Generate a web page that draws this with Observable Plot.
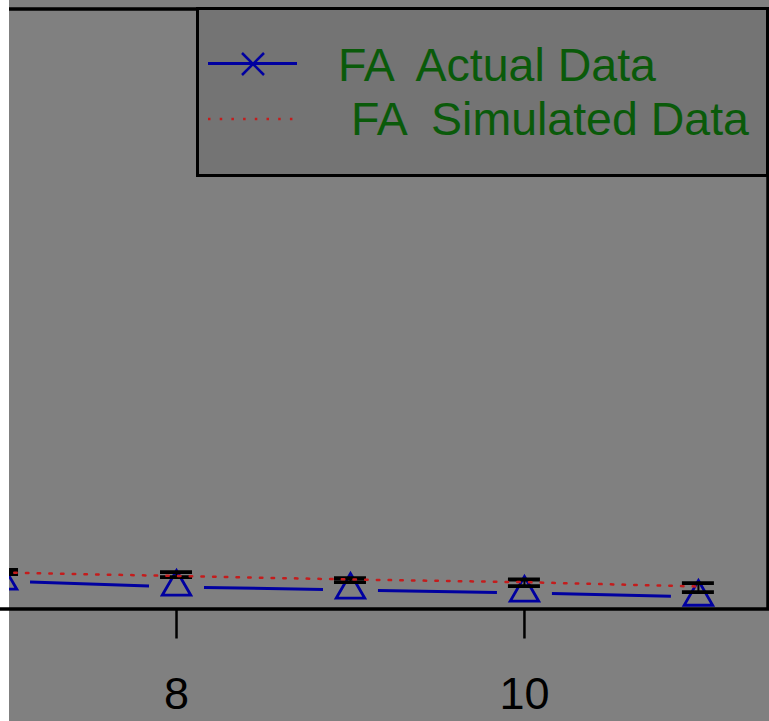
<!DOCTYPE html>
<html><head><meta charset="utf-8">
<script src="https://cdn.jsdelivr.net/npm/d3@7"></script>
<script src="https://cdn.jsdelivr.net/npm/@observablehq/plot@0.6"></script>
<style>
body{margin:0;background:#fff;}
#wrap{position:relative;width:769px;height:721px;font-family:"Liberation Sans",Arial,sans-serif;}
#legend{position:absolute;left:196px;top:7px;width:573px;height:170px;box-sizing:border-box;border:3.5px solid #000;background:#747474;}
#legsym{position:absolute;left:0;top:0;pointer-events:none;}
.lt{position:absolute;font-size:46.5px;line-height:46.5px;color:#0a5a0a;white-space:pre;}
</style>
</head><body>
<div id="wrap"></div>
<script>
// Data
const xs = [7, 8, 9, 10, 11];
const actual = [4.67, 3.67, 3.17, 2.67, 2.0];
const simulated = [6.08, 5.5, 4.92, 4.47, 3.75];
const errLow = [5.83, 5.3, 4.47, 3.8, 2.8];
const errHigh = [6.5, 6.13, 5.13, 4.92, 4.3];
const xTicks = [8, 10];
const seriesLabels = ["FA  Actual Data", " FA  Simulated Data"];

const blue = "#0000a0", red = "#c41c1c";
const data = xs.map((x, i) => ({x, actual: actual[i], sim: simulated[i], lo: errLow[i], hi: errHigh[i]}));

// line segments of the actual series, gapped around the symbols
const gap = 0.158;
const segs = d3.range(xs.length - 1).map(i => {
  const t = gap / (xs[i + 1] - xs[i]);
  const dy = actual[i + 1] - actual[i];
  return {x1: xs[i] + gap, x2: xs[i + 1] - gap, y1: actual[i] + dy * t, y2: actual[i + 1] - dy * t};
});

const xDomain = [7.04, 11.4], yDomain = [0, 100];

const chart = Plot.plot({
  width: 769, height: 721,
  marginLeft: 9, marginRight: 1.5, marginTop: 8.5, marginBottom: 112.5,
  style: {background: "linear-gradient(to right,#fff 0,#fff 9px,#808080 9px)", fontFamily: "'Liberation Sans',Arial,sans-serif", color: "#000"},
  x: {domain: xDomain, axis: null},
  y: {domain: yDomain, axis: null},
  marks: [
    Plot.link(segs, {x1: "x1", y1: "y1", x2: "x2", y2: "y2", stroke: blue, strokeWidth: 3, clip: true}),
    Plot.dot(data, {x: "x", y: "actual", symbol: "triangle", r: 10.6, stroke: blue, strokeWidth: 2.8, fill: "none", clip: true}),
    Plot.ruleX(data, {x: "x", y1: "lo", y2: "hi", stroke: "#000", strokeWidth: 2, clip: true}),
    Plot.ruleY(data, {y: "lo", x1: "x", x2: "x", insetLeft: -16, insetRight: -16, stroke: "#000", strokeWidth: 3.8, clip: true}),
    Plot.ruleY(data, {y: "hi", x1: "x", x2: "x", insetLeft: -16, insetRight: -16, stroke: "#000", strokeWidth: 3.8, clip: true}),
    Plot.line(data, {x: "x", y: "sim", stroke: red, strokeWidth: 2.5, strokeDasharray: "2.5 9.2", clip: true}),
    Plot.ruleY([yDomain[1]], {stroke: "#000", strokeWidth: 3.5, insetRight: -2}),
    Plot.ruleX([xDomain[1]], {stroke: "#000", strokeWidth: 3.5, insetTop: -1.5, insetBottom: -1.5}),
    Plot.ruleY([yDomain[0]], {stroke: "#000", strokeWidth: 3.5, insetLeft: -9, insetRight: -2}),
    Plot.axisX({ticks: xTicks, anchor: "bottom", tickSize: 30, tickPadding: 38, fontSize: 45, stroke: "#000", fill: "#000", strokeWidth: 2.5, tickFormat: d => String(d)})
  ]
});

const wrap = document.getElementById("wrap");
wrap.appendChild(chart);

// Legend
const leg = document.createElement("div");
leg.id = "legend";
wrap.appendChild(leg);
const ns = "http://www.w3.org/2000/svg";
const sym = document.createElementNS(ns, "svg");
sym.setAttribute("id", "legsym");
sym.setAttribute("width", 769);
sym.setAttribute("height", 200);
sym.innerHTML = `
  <line x1="208" x2="297" y1="63.5" y2="63.5" stroke="${blue}" stroke-width="3"/>
  <line x1="242" y1="53" x2="264" y2="75" stroke="${blue}" stroke-width="2.5"/>
  <line x1="242" y1="75" x2="264" y2="53" stroke="${blue}" stroke-width="2.5"/>
  <line x1="208" x2="297" y1="119" y2="119" stroke="${red}" stroke-width="2.5" stroke-dasharray="2.5 9.2"/>`;
wrap.appendChild(sym);
seriesLabels.forEach((s, i) => {
  const t = document.createElement("div");
  t.className = "lt";
  t.textContent = s;
  t.style.left = "338px";
  t.style.top = (41.6 + i * 54) + "px";
  wrap.appendChild(t);
});
</script>
</body></html>
